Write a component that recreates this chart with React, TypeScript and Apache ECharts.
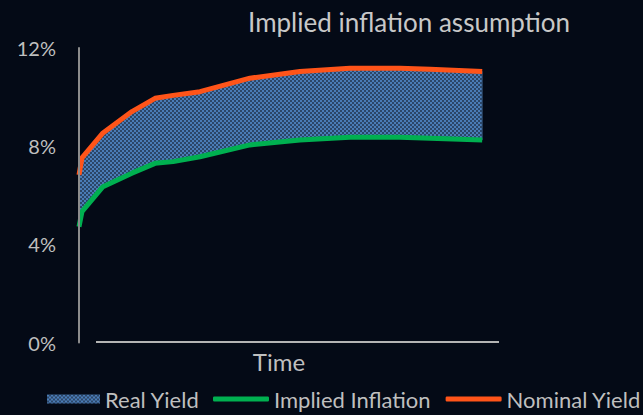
import React, { useEffect, useRef } from "react";
import * as echarts from "echarts";

const timePoints = [0, 0.7, 5.7, 12.6, 18.1, 22.4, 28.8, 40.7, 52.6, 64.5, 76.4, 83.6, 96.0];
const nominalYield = [6.83, 7.52, 8.54, 9.41, 9.95, 10.07, 10.22, 10.77, 11.04, 11.17, 11.17, 11.13, 11.04];
const impliedInflation = [4.72, 5.33, 6.35, 6.9, 7.3, 7.37, 7.57, 8.05, 8.25, 8.36, 8.36, 8.32, 8.25];
const yTicks = [0, 4, 8, 12];

const FONT = "Lato";
const TEXT = "#bfbfbf";
const ORANGE = "#ff5419";
const GREEN = "#00b050";
const BG = "#040a16";

function makePattern() {
  const c = document.createElement("canvas");
  c.width = 4;
  c.height = 4;
  const ctx = c.getContext("2d")!;
  ctx.fillStyle = "#2b4668";
  ctx.fillRect(0, 0, 4, 4);
  ctx.fillStyle = "#4a7cb6";
  ctx.fillRect(0, 0, 2, 2);
  ctx.fillRect(2, 2, 2, 2);
  return { image: c, repeat: "repeat", imageWidth: 4, imageHeight: 4 } as any;
}

export default function App() {
  const ref = useRef<HTMLDivElement>(null);
  useEffect(() => {
    const chart = echarts.init(ref.current!, undefined, { renderer: "svg" });
    const pattern = makePattern();
    const pair = (arr: number[]) => arr.map((v, i) => [timePoints[i], v]);
    const bandData = timePoints.map((t, i) => [t, impliedInflation[i], nominalYield[i]]);
    const legendText = { color: TEXT, fontFamily: FONT, fontSize: 22, lineHeight: 24 };
    chart.setOption({
      animation: false,
      backgroundColor: BG,
      title: {
        text: "Implied inflation assumption",
        left: 404,
        top: 4,
        textAlign: "center",
        textStyle: { color: "#c8c8c8", fontFamily: FONT, fontSize: 26, fontWeight: "normal" },
      },
      grid: { left: 79, right: 144, top: 48, bottom: 72.5 },
      xAxis: {
        type: "value",
        min: 0,
        max: 100,
        axisLine: { show: false },
        axisTick: { show: false },
        axisLabel: { show: false },
        splitLine: { show: false },
      },
      yAxis: {
        type: "value",
        min: yTicks[0],
        max: yTicks[yTicks.length - 1],
        interval: 4,
        z: 5,
        axisLine: { show: true, lineStyle: { color: "#8c8c8c", width: 2 } },
        axisTick: { show: false },
        splitLine: { show: false },
        axisLabel: {
          formatter: "{value}%",
          color: TEXT,
          fontFamily: FONT,
          fontSize: 20,
          margin: 23,
        },
      },
      legend: [
        {
          data: [{ name: "Real Yield", icon: "rect", itemStyle: { color: pattern } }],
          left: 47,
          top: 387,
          padding: 0,
          itemWidth: 53,
          itemHeight: 9,
          itemGap: 15,
          textStyle: legendText,
        },
        {
          data: ["Implied Inflation", "Nominal Yield"],
          left: 213,
          top: 387,
          padding: 0,
          icon: "roundRect",
          itemWidth: 56,
          itemHeight: 5,
          itemGap: 15,
          textStyle: legendText,
        },
      ],
      graphic: [
        {
          type: "line",
          z: 10,
          shape: { x1: 96, y1: 342, x2: 499, y2: 342 },
          style: { stroke: "#b4b4b4", lineWidth: 2 },
        },
        {
          type: "text",
          x: 279,
          y: 361,
          style: {
            text: "Time",
            fill: TEXT,
            font: `24px ${FONT}`,
            textAlign: "center",
            textVerticalAlign: "middle",
          },
        },
      ],
      series: [
        {
          name: "Real Yield",
          type: "custom",
          data: bandData,
          encode: { x: 0, y: [1, 2] },
          itemStyle: { color: pattern },
          z: 1,
          renderItem: (params: any, api: any) => {
            if (params.dataIndex !== 0) return null;
            const top = bandData.map((d) => api.coord([d[0], d[2]]));
            const bottom = bandData.map((d) => api.coord([d[0], d[1]])).reverse();
            return {
              type: "polygon",
              shape: { points: top.concat(bottom) },
              style: { fill: pattern, stroke: "#2e4a6c", lineWidth: 1 },
            };
          },
        },
        {
          name: "Implied Inflation",
          type: "line",
          data: pair(impliedInflation),
          symbol: "none",
          itemStyle: { color: GREEN },
          lineStyle: { color: GREEN, width: 5 },
          z: 3,
        },
        {
          name: "Nominal Yield",
          type: "line",
          data: pair(nominalYield),
          symbol: "none",
          itemStyle: { color: ORANGE },
          lineStyle: { color: ORANGE, width: 5 },
          z: 3,
        },
      ],
    });
    return () => chart.dispose();
  }, []);
  return <div ref={ref} style={{ width: 643, height: 415, position: "fixed", left: 0, top: 0 }} />;
}
